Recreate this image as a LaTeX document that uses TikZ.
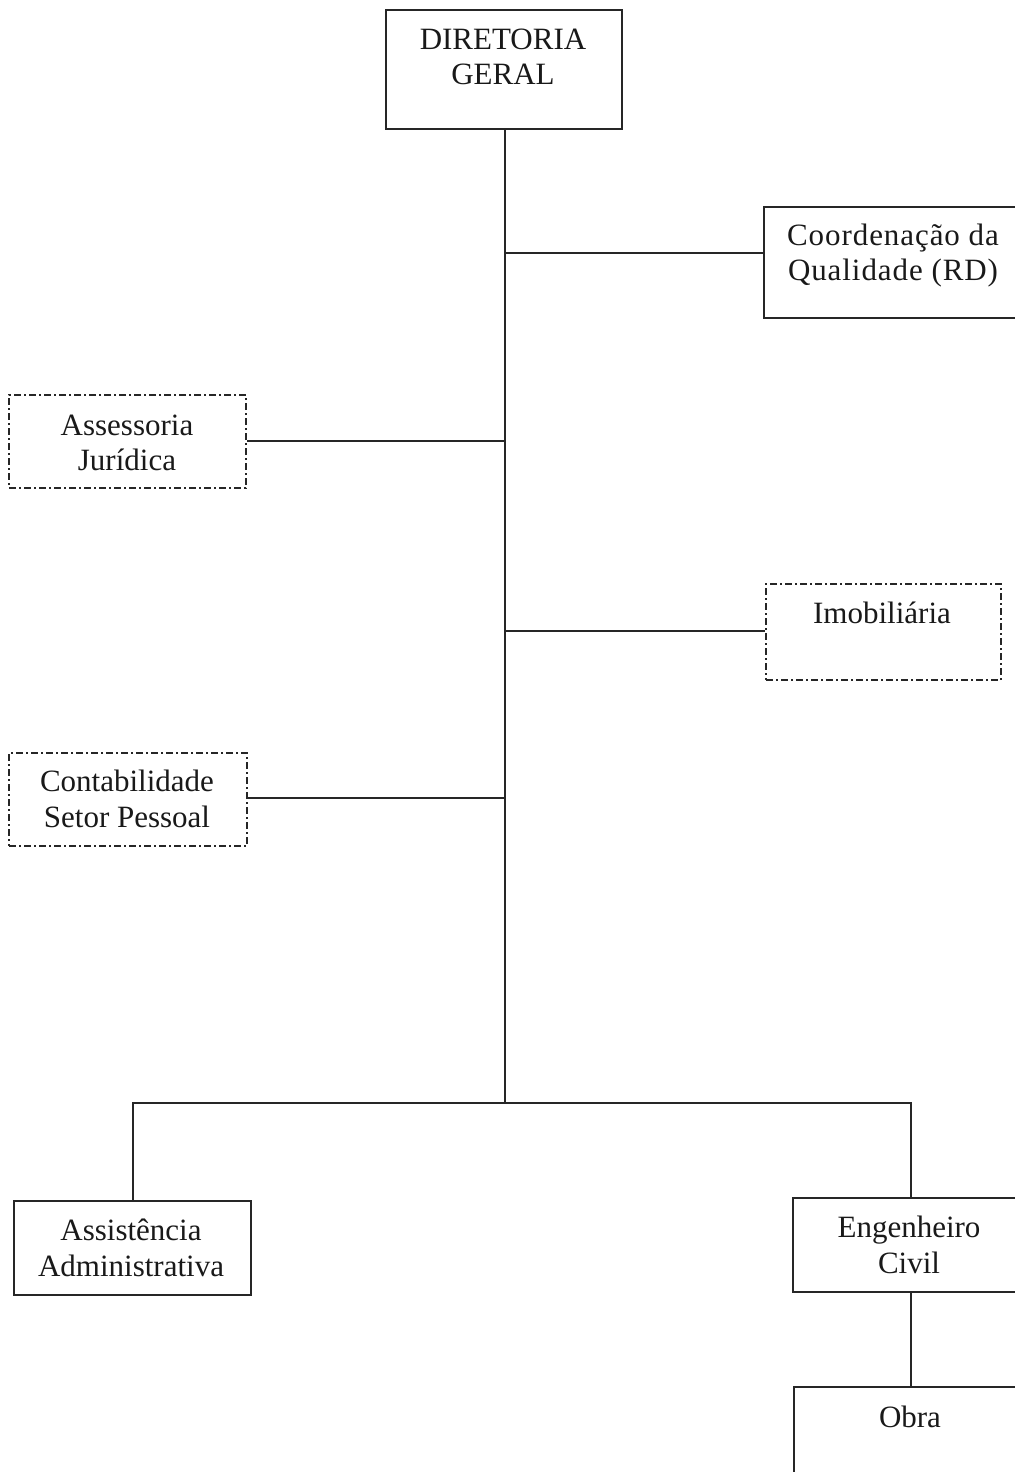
\documentclass[tikz,border=0pt]{standalone}
\usepackage{fontspec}
\setmainfont{Liberation Serif}
\begin{document}
\begin{tikzpicture}[x=0.5pt,y=-0.5pt,
  line/.style={draw=black!85,line width=1pt},
  sbox/.style={line,rectangle,inner sep=0pt,anchor=north west},
  dbox/.style={sbox,dash pattern=on 3.5pt off 1.5pt on 1pt off 1.5pt},
  txt/.style={align=center,inner sep=0pt,font=\fontsize{15.5pt}{17.8pt}\selectfont,text=black!90}]
\useasboundingbox (0,0) rectangle (1015,1472);
% boxes
\node[sbox,minimum width=118pt,minimum height=59.5pt] (dg) at (385,9) {};
\node[sbox,minimum width=132.5pt,minimum height=55.5pt] (cq) at (763,206) {};
\node[dbox,minimum width=118.5pt,minimum height=46.5pt] (aj) at (8,394) {};
\node[dbox,minimum width=117.5pt,minimum height=48pt] (im) at (765,583) {};
\node[dbox,minimum width=119pt,minimum height=46.5pt] (cs) at (8,752) {};
\node[sbox,minimum width=118.5pt,minimum height=47pt] (aa) at (13,1200) {};
\node[sbox,minimum width=118pt,minimum height=47pt] (ec) at (792,1197) {};
\node[sbox,minimum width=117pt,minimum height=55pt] (ob) at (793,1386) {};
% texts
\node[txt] (dgt) at (503,57) {DIRETORIA\\GERAL};
\node[txt,font=\fontsize{15.5pt}{17.5pt}\selectfont\addfontfeature{LetterSpace=3}] (cqt) at (893,256) {Coordenação da\\Qualidade (RD)};
\node[txt] (ajt) at (127,443) {Assessoria\\Jurídica};
\node[txt] (imt) at (882,613) {Imobiliária};
\node[txt] (cst) at (127,799) {Contabilidade\\Setor Pessoal};
\node[txt] (aat) at (131,1248) {Assistência\\Administrativa};
\node[txt] (ect) at (909,1245) {Engenheiro\\Civil};
\node[txt] (obt) at (910,1417) {Obra};
% connectors
\coordinate (bus) at (505,1103);
\coordinate (j1) at (505,253);
\coordinate (j2) at (505,441);
\coordinate (j3) at (505,631);
\coordinate (j4) at (505,798);
\draw[line] (bus |- dg.south) -- (bus);
\draw[line] (j1) -- (j1 -| cq.west);
\draw[line] (j2) -- (j2 -| aj.east);
\draw[line] (j3) -- (j3 -| im.west);
\draw[line] (j4) -- (j4 -| cs.east);
\draw[line] (aa.north) |- (bus) -| (ec.north);
\draw[line] (ec.south) -- (ob.north);
\end{tikzpicture}
\end{document}
